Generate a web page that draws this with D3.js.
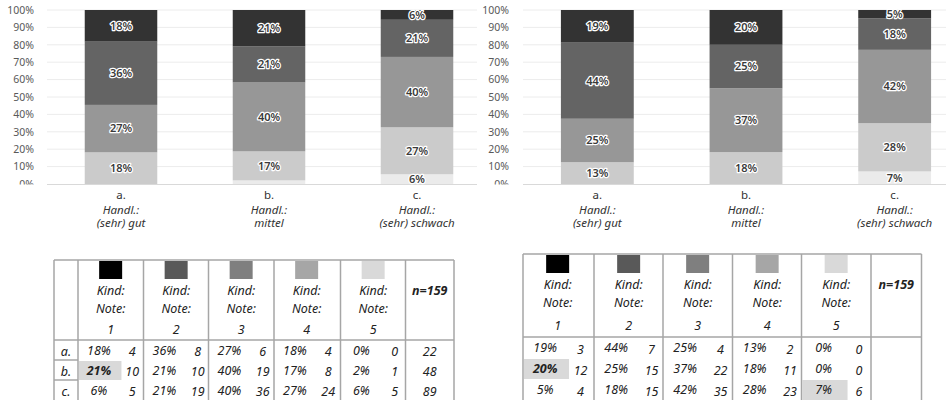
<!DOCTYPE html>
<html>
<head>
<meta charset="utf-8">
<script src="https://cdn.jsdelivr.net/npm/d3@7"></script>
<style>
    body { margin: 0; background: #fff; }
    svg { display: block; }
    .tick-label { font-family: "Noto Sans", sans-serif; font-size: 10.5px; fill: #595959; }
    .bar-label { font-family: "Noto Sans", sans-serif; font-size: 11px; font-weight: 600; fill: #3a3a3a;
        stroke: #fff; stroke-width: 2.5px; paint-order: stroke; stroke-linejoin: round; }
    .x-label { font-family: "Noto Sans", sans-serif; font-size: 11.5px; fill: #333; }
    .tbl { font-family: "Noto Sans", sans-serif; font-size: 12.5px; font-style: italic; fill: #222; }
</style>
</head>
<body>
<div id="chart"></div>
<script>

// categories
const groups = ["a.", "b.", "c."];
const groupSub = ["Handl.:", "Handl.:", "Handl.:"];
const groupSub2 = ["(sehr) gut", "mittel", "(sehr) schwach"];
const notes = ["1", "2", "3", "4", "5"];
const yTicks = [0, 0.1, 0.2, 0.3, 0.4, 0.5, 0.6, 0.7, 0.8, 0.9, 1];

// left: counts and shown percentages per group, note 1..5
const countsLeft = [[4, 8, 6, 4, 0], [10, 10, 19, 8, 1], [5, 19, 36, 24, 5]];
const pctLeft = [[18, 36, 27, 18, 0], [21, 21, 40, 17, 2], [6, 21, 40, 27, 6]];
const totalsLeft = ["22", "48", "89"];

// right
const countsRight = [[3, 7, 4, 2, 0], [12, 15, 22, 11, 0], [4, 15, 35, 23, 6]];
const pctRight = [[19, 44, 25, 13, 0], [20, 25, 37, 18, 0], [5, 18, 42, 28, 7]];
const totalsRight = ["", "", ""];

const nLabel = "n=159";
// highlighted cells [row, note]
const hiLeft = [[1, 0]];
const hiRight = [[1, 0], [2, 4]];

const barColors = ["#333333", "#646464", "#979797", "#cbcbcb", "#ebebeb"];
const swatchColors = ["#000000", "#595959", "#7f7f7f", "#a6a6a6", "#d9d9d9"];

const svg = d3.select("#chart").append("svg")
    .attr("width", 946)
    .attr("height", 400);

class StackVis {
    constructor(svg, counts, pcts, opts) {
        this.svg = svg;
        this.counts = counts;
        this.pcts = pcts;
        this.opts = opts;
        this.initVis();
    }

    initVis() {
        let vis = this;
        let o = vis.opts;

        vis.g = vis.svg.append("g");

        vis.x = d3.scaleBand()
            .domain(groups)
            .range([o.x0, o.x1])
            .paddingInner(0.51)
            .paddingOuter(0.255);

        vis.y = d3.scaleLinear()
            .domain([0, 1])
            .range([184, 10]);

        // white backdrop for the axis labels (covers neighbour's grid)
        vis.g.append("rect")
            .attr("x", o.labelRight - 32)
            .attr("y", 0)
            .attr("width", o.x0 - o.labelRight + 32)
            .attr("height", 240)
            .attr("fill", "#fff");

        vis.g.selectAll(".grid")
            .data(yTicks.slice(1))
            .enter().append("line")
            .attr("class", "grid")
            .attr("x1", o.x0)
            .attr("x2", o.gridEnd)
            .attr("y1", d => vis.y(d))
            .attr("y2", d => vis.y(d))
            .attr("stroke", "#ececec")
            .attr("stroke-width", 1);

        vis.g.append("line")
            .attr("x1", o.x0)
            .attr("x2", o.gridEnd)
            .attr("y1", vis.y(0) + 0.5)
            .attr("y2", vis.y(0) + 0.5)
            .attr("stroke", "#d9d9d9");

        // y labels, bottom one is cut off like in the original
        let clipId = "clip" + o.x0;
        vis.g.append("clipPath").attr("id", clipId)
            .append("rect").attr("x", -200).attr("y", 0).attr("width", 400).attr("height", 184.5);

        let axis = d3.axisLeft(vis.y)
            .tickValues(yTicks)
            .tickFormat(d3.format(".0%"))
            .tickSize(0)
            .tickPadding(o.x0 - o.labelRight);

        vis.g.append("g")
            .attr("transform", `translate(${o.x0},0)`)
            .attr("clip-path", `url(#${clipId})`)
            .call(axis)
            .call(g => g.select(".domain").remove())
            .attr("font-size", null)
            .attr("font-family", null)
            .selectAll("text")
            .attr("class", "tick-label")
            .attr("fill", null);

        vis.wrangleData();
    }

    wrangleData() {
        let vis = this;
        vis.rows = groups.map((gr, i) => {
            let row = {group: gr};
            notes.forEach((n, j) => { row[n] = vis.counts[i][j]; });
            return row;
        });
        // note 5 at the bottom, note 1 on top
        vis.stacked = d3.stack()
            .keys(notes.slice().reverse())
            .offset(d3.stackOffsetExpand)(vis.rows);
        vis.updateVis();
    }

    updateVis() {
        let vis = this;

        let layers = vis.g.selectAll(".layer")
            .data(vis.stacked)
            .enter().append("g")
            .attr("class", "layer")
            .attr("fill", d => barColors[notes.indexOf(d.key)]);

        layers.selectAll("rect")
            .data(d => d)
            .enter().append("rect")
            .attr("x", d => vis.x(d.data.group))
            .attr("width", vis.x.bandwidth())
            .attr("y", d => vis.y(d[1]))
            .attr("height", d => vis.y(d[0]) - vis.y(d[1]));

        let labels = [];
        vis.stacked.forEach(layer => {
            let j = notes.indexOf(layer.key);
            layer.forEach((d, i) => {
                let p = vis.pcts[i][j];
                if (p >= 5) labels.push({group: d.data.group, mid: (d[0] + d[1]) / 2, text: p + "%"});
            });
        });

        vis.g.selectAll(".bar-label")
            .data(labels)
            .enter().append("text")
            .attr("class", "bar-label")
            .attr("x", d => vis.x(d.group) + vis.x.bandwidth() / 2)
            .attr("y", d => vis.y(d.mid))
            .attr("dy", "0.35em")
            .attr("text-anchor", "middle")
            .text(d => d.text);

        let xl = vis.g.selectAll(".x-label")
            .data(groups)
            .enter().append("text")
            .attr("class", "x-label")
            .attr("text-anchor", "middle")
            .attr("x", d => vis.x(d) + vis.x.bandwidth() / 2)
            .attr("y", 199);
        xl.append("tspan").text(d => d);
        xl.append("tspan")
            .attr("x", d => vis.x(d) + vis.x.bandwidth() / 2)
            .attr("dy", 14.5)
            .attr("font-style", "italic")
            .text((d, i) => groupSub[i]);
        xl.append("tspan")
            .attr("x", d => vis.x(d) + vis.x.bandwidth() / 2)
            .attr("dy", 13.5)
            .attr("font-style", "italic")
            .text((d, i) => groupSub2[i]);
    }
}

class TableVis {
    constructor(svg, pcts, counts, totals, highlights, opts) {
        this.svg = svg;
        this.pcts = pcts;
        this.counts = counts;
        this.totals = totals;
        this.highlights = highlights;
        this.opts = opts;
        this.initVis();
    }

    initVis() {
        let vis = this;
        let o = vis.opts;
        vis.g = vis.svg.append("g");

        let edges = o.edges;
        let noteCols = o.rowLabels ? edges.slice(1, 6) : edges.slice(0, 5);
        let nCol = o.rowLabels ? [edges[6], edges[7]] : [edges[5], edges[6]];
        let rowY = d3.range(3).map(i => o.headBottom + i * o.rowH);

        // highlights first so borders sit on top
        vis.g.selectAll(".hi")
            .data(vis.highlights)
            .enter().append("rect")
            .attr("x", d => noteCols[d[1]] + 1)
            .attr("y", d => rowY[d[0]] + 1)
            .attr("width", o.colW * 0.65)
            .attr("height", o.rowH - 1)
            .attr("fill", "#d9d9d9");

        // swatches + header
        noteCols.forEach((cx, j) => {
            let mid = cx + o.colW / 2;
            vis.g.append("rect")
                .attr("x", mid - 11.5)
                .attr("y", o.top + 1)
                .attr("width", 23)
                .attr("height", 18)
                .attr("fill", swatchColors[j]);
            ["Kind:", "Note:", notes[j]].forEach((t, k) => {
                vis.g.append("text")
                    .attr("class", "tbl")
                    .attr("x", mid)
                    .attr("y", o.headY[k])
                    .attr("text-anchor", "middle")
                    .text(t);
            });
        });

        vis.g.append("text")
            .attr("class", "tbl")
            .attr("x", (nCol[0] + nCol[1]) / 2)
            .attr("y", o.headY[0])
            .attr("text-anchor", "middle")
            .attr("font-weight", "bold")
            .text(nLabel);

        // body
        groups.forEach((gr, i) => {
            let cy = rowY[i] + o.rowH / 2 + 4.5;
            if (o.rowLabels) {
                vis.g.append("text").attr("class", "tbl")
                    .attr("x", (edges[0] + edges[1]) / 2).attr("y", cy + 1)
                    .attr("text-anchor", "middle").text(gr);
            }
            notes.forEach((n, j) => {
                let hi = vis.highlights.some(h => h[0] === i && h[1] === j);
                vis.g.append("text").attr("class", "tbl")
                    .attr("x", noteCols[j] + o.colW * 0.32).attr("y", cy)
                    .attr("text-anchor", "middle")
                    .attr("font-weight", hi && j === 0 ? "bold" : null)
                    .text(vis.pcts[i][j] + "%");
                vis.g.append("text").attr("class", "tbl")
                    .attr("x", noteCols[j] + o.colW * 0.83).attr("y", cy + 1.5)
                    .attr("text-anchor", "middle")
                    .text(vis.counts[i][j]);
            });
            vis.g.append("text").attr("class", "tbl")
                .attr("x", (nCol[0] + nCol[1]) / 2).attr("y", cy + 1)
                .attr("text-anchor", "middle")
                .text(vis.totals[i]);
        });

        // borders
        let line = (x1, y1, x2, y2) => vis.g.append("line")
            .attr("x1", x1).attr("y1", y1).attr("x2", x2).attr("y2", y2)
            .attr("stroke", "#a6a6a6").attr("stroke-width", 1.5);

        let bottom = 402;
        line(edges[0], o.top, edges[edges.length - 1], o.top);
        line(edges[0], o.headBottom, edges[edges.length - 1], o.headBottom);
        edges.forEach(x => line(x, o.top, x, bottom));
        if (o.rowLabels) {
            rowY.slice(1).forEach(y => line(edges[0], y, edges[1], y));
        }
    }
}

new StackVis(svg, countsLeft, pctLeft, {x0: 47, x1: 491, gridEnd: 491, labelRight: 34});
new StackVis(svg, countsRight, pctRight, {x0: 523, x1: 969, gridEnd: 946, labelRight: 509});

new TableVis(svg, pctLeft, countsLeft, totalsLeft, hiLeft, {
    edges: [54, 78, 143.5, 208.5, 274, 340.5, 405.5, 454],
    colW: 65.3, rowLabels: true,
    top: 260, headBottom: 340, rowH: 20,
    headY: [295, 313, 334]
});
new TableVis(svg, pctRight, countsRight, totalsRight, hiRight, {
    edges: [523, 594, 663, 732.5, 801.5, 871, 921.5],
    colW: 69.3, rowLabels: false,
    top: 254, headBottom: 337, rowH: 21,
    headY: [289, 307, 330]
});

</script>
</body>
</html>
